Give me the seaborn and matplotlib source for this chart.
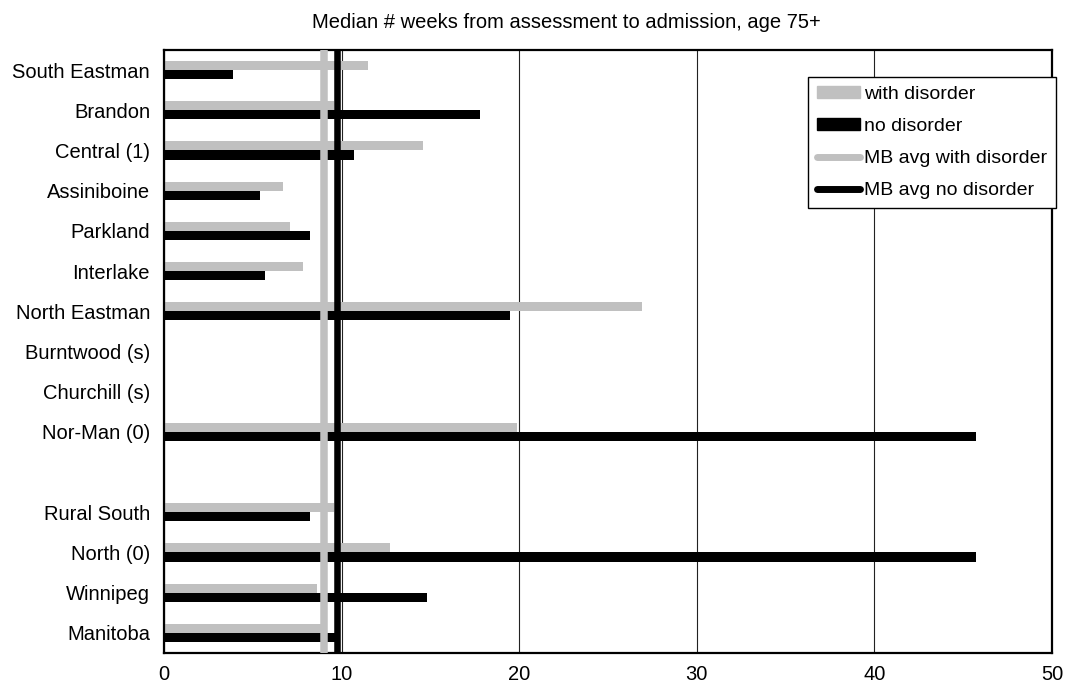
import numpy as np
import pandas as pd
import matplotlib.pyplot as plt
import seaborn as sns
from matplotlib.patches import Patch
from matplotlib.lines import Line2D

# Data (weeks); NaN = suppressed / spacer row
regions = ["South Eastman", "Brandon", "Central (1)", "Assiniboine", "Parkland",
           "Interlake", "North Eastman", "Burntwood (s)", "Churchill (s)",
           "Nor-Man (0)", " ", "Rural South", "North (0)", "Winnipeg", "Manitoba"]
with_disorder = [11.5, 9.6, 14.6, 6.7, 7.1, 7.8, 26.9, np.nan, np.nan, 19.9,
                 np.nan, 9.6, 12.7, 8.6, 9.0]
no_disorder = [3.9, 17.8, 10.7, 5.4, 8.2, 5.7, 19.5, np.nan, np.nan, 45.7,
               np.nan, 8.2, 45.7, 14.8, 9.75]
mb_avg_with = 9.0
mb_avg_no = 9.75
x_ticks = [0, 10, 20, 30, 40, 50]

groups = ["with disorder", "no disorder"]
df = pd.DataFrame({
    "region": regions * 2,
    "weeks": with_disorder + no_disorder,
    "group": [groups[0]] * len(regions) + [groups[1]] * len(regions),
})

sns.set_style("white")
plt.rcParams["font.family"] = ["Liberation Sans", "DejaVu Sans"]
plt.rcParams["text.color"] = "black"
plt.rcParams["xtick.color"] = "black"
plt.rcParams["ytick.color"] = "black"

fig = plt.figure(figsize=(10.69, 6.96), dpi=100)
ax = fig.add_axes([0.1534, 0.0618, 0.8307, 0.8664])

sns.barplot(data=df, y="region", x="weeks", hue="group", order=regions,
            hue_order=groups, palette=["#C0C0C0", "#000000"], orient="h",
            width=0.45, errorbar=None, saturation=1, linewidth=0, ax=ax)

# Manitoba averages
ax.axvline(mb_avg_with, color="#C0C0C0", lw=5.4, zorder=5)
ax.axvline(mb_avg_no, color="#000000", lw=4.7, zorder=6)

ax.set_xlim(0, 50)
ax.set_ylim(len(regions) - 0.5, -0.5)
ax.set_xticks(x_ticks)
ax.set_xlabel("")
ax.set_ylabel("")
ax.grid(axis="x", color="#222222", lw=0.8)
ax.set_axisbelow(True)
ax.tick_params(axis="x", length=0, pad=9, labelsize=14.5)
ax.tick_params(axis="y", length=0, pad=10, labelsize=14.5)
for s in ax.spines.values():
    s.set_color("black")
    s.set_linewidth(1.6)

ax.get_legend().remove()
handles = [Patch(color="#C0C0C0"), Patch(color="#000000"),
           Line2D([0], [0], color="#C0C0C0", lw=5, solid_capstyle="round"),
           Line2D([0], [0], color="#000000", lw=5, solid_capstyle="round")]
labels = ["with disorder", "no disorder", "MB avg with disorder", "MB avg no disorder"]
leg = ax.legend(handles, labels, loc="upper right", bbox_to_anchor=(1.004, 0.955),
                borderaxespad=0, fontsize=14, frameon=True, fancybox=False,
                edgecolor="black", framealpha=1, handlelength=2.2,
                handleheight=0.6, handletextpad=0.2, labelspacing=0.78,
                borderpad=0.45)
leg.get_frame().set_linewidth(1.0)
leg.set_zorder(10)

fig.text(0.53, 0.968, "Median # weeks from assessment to admission, age 75+",
         ha="center", va="center", fontsize=14.5)

fig.savefig("out.png", dpi=100)
